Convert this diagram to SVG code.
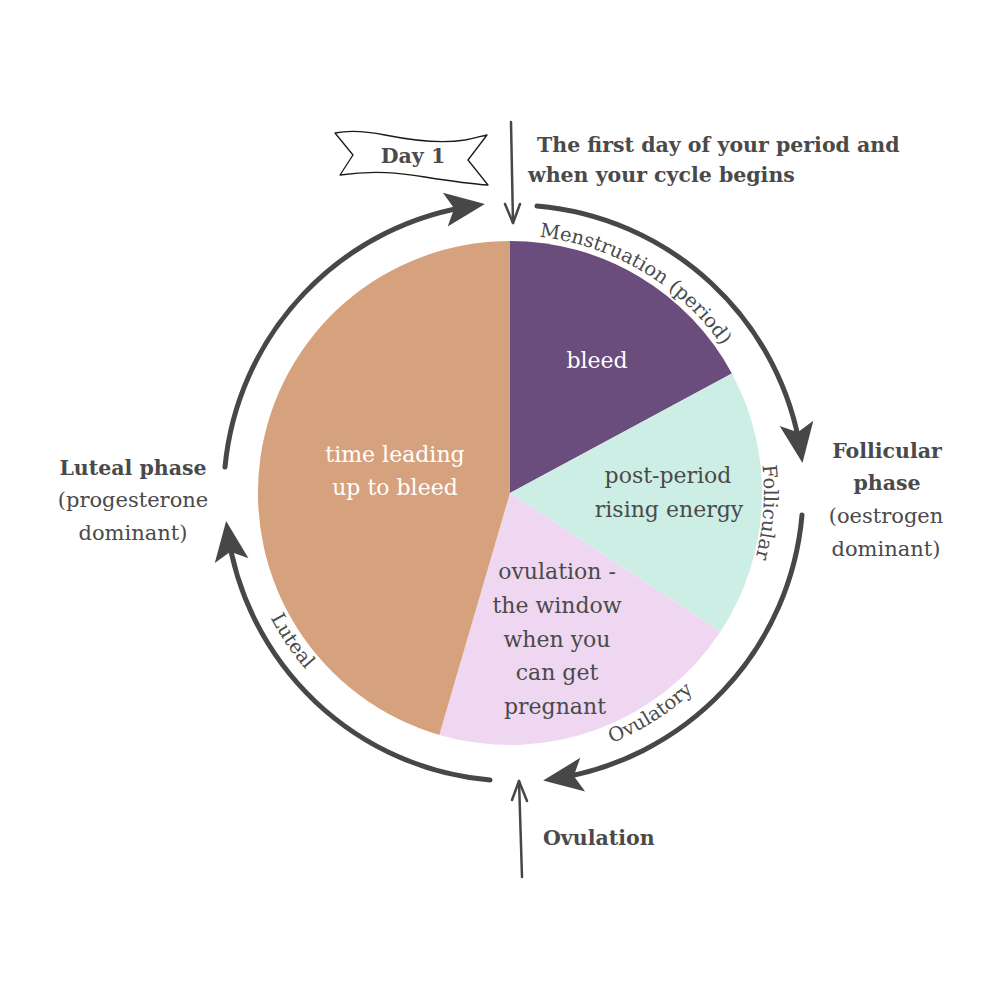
<svg xmlns="http://www.w3.org/2000/svg" width="1000" height="1000" viewBox="0 0 1000 1000">
<defs>
<style>
.t{font-family:"DejaVu Serif","Liberation Serif",serif;fill:#4a4a4a}
.b{font-weight:bold;font-size:20.5px}
.r{font-size:21px}
.s{font-size:22px;text-anchor:middle}
.w{fill:#ffffff}
.c{font-size:19.5px}
.ring{fill:none;stroke:#474747;stroke-width:5;stroke-linecap:round;marker-end:url(#head)}
.thin{fill:none;stroke:#474747;stroke-width:2.5;stroke-linecap:round;stroke-linejoin:round}
</style>
<marker id="head" markerUnits="userSpaceOnUse" orient="auto" refX="0" refY="0" markerWidth="80" markerHeight="80" overflow="visible">
<path d="M10,0 L-30,-17 L-21,0 L-30,17 Z" fill="#474747"/>
</marker>
<path id="pMen" d="M510,235 A258,258 0 0 1 768,493"/>
<path id="pFol" d="M689.6,313.4 A254,254 0 0 1 689.6,672.6"/>
<path id="pOvu" d="M510,763 A270,270 0 0 0 780,493"/>
<path id="pLut" d="M240,493 A270,270 0 0 0 510,763"/>
</defs>
<rect width="1000" height="1000" fill="#ffffff"/>

<g id="pie">
<g id="slice-bleed">
<path d="M510,493 L510,241 A252,252 0 0 1 731.9,373.5 Z" fill="#6a4c7d"/>
<text class="t s w" x="597" y="368">bleed</text>
</g>
<g id="slice-follicular">
<path d="M510,493 L731.9,373.5 A252,252 0 0 1 720.4,631.7 Z" fill="#cdeee4"/>
<text class="t s" x="668" y="483">post-period</text>
<text class="t s" x="669" y="517">rising energy</text>
</g>
<g id="slice-ovulatory">
<path d="M510,493 L720.4,631.7 A252,252 0 0 1 439.3,734.9 Z" fill="#efd7f1"/>
<text class="t s" x="557" y="579">ovulation -</text>
<text class="t s" x="557" y="613">the window</text>
<text class="t s" x="557" y="647">when you</text>
<text class="t s" x="557" y="680">can get</text>
<text class="t s" x="555" y="714">pregnant</text>
</g>
<g id="slice-luteal">
<path d="M510,493 L439.3,734.9 A252,252 0 0 1 510,241 Z" fill="#d6a27d"/>
<text class="t s w" x="395" y="462">time leading</text>
<text class="t s w" x="395" y="495">up to bleed</text>
</g>
</g>

<g id="connectors">
<path class="ring" d="M537,206 A292,292 0 0 1 801,453"/>
<path class="ring" d="M802,515 A292,292 0 0 1 553,779"/>
<path class="ring" d="M490,780 A290,290 0 0 1 227.5,531"/>
<path class="ring" d="M225,467 A292,292 0 0 1 475,205.5"/>
<path class="thin" d="M511,122 L513,223"/>
<path class="thin" d="M505,204 L513,223 L520,204"/>
<path class="thin" d="M522,877 L519,781"/>
<path class="thin" d="M512,800 L519,781 L527,801"/>
</g>

<g id="ring-labels">
<text class="t c"><textPath href="#pMen" startOffset="139" text-anchor="middle">Menstruation (period)</textPath></text>
<text class="t c"><textPath href="#pFol" startOffset="218.5" text-anchor="middle">Follicular</textPath></text>
<text class="t c"><textPath href="#pOvu" startOffset="153" text-anchor="middle">Ovulatory</textPath></text>
<text class="t c"><textPath href="#pLut" startOffset="161" text-anchor="middle">Luteal</textPath></text>
</g>

<g id="day1">
<path d="M335,133 C350,130 365,131 385,135 C410,140 440,144 465,140 C475,138 482,136 487,135 L468,160 L488,185 C470,184 450,181 425,177 C400,173 375,170 340,175 L353,155 Z" fill="#ffffff" stroke="#1a1a1a" stroke-width="1.3" stroke-linejoin="round"/>
<text class="t b" x="413" y="163" text-anchor="middle" font-size="19">Day 1</text>
</g>

<g id="first-day-note">
<text class="t b" x="537" y="152">The first day of your period and</text>
<text class="t b" x="528" y="182">when your cycle begins</text>
</g>

<g id="follicular-phase">
<text class="t b" x="887" y="458" text-anchor="middle">Follicular</text>
<text class="t b" x="887" y="490" text-anchor="middle">phase</text>
<text class="t r" x="886" y="523" text-anchor="middle">(oestrogen</text>
<text class="t r" x="886" y="556" text-anchor="middle">dominant)</text>
</g>

<g id="luteal-phase">
<text class="t b" x="133" y="475" text-anchor="middle">Luteal phase</text>
<text class="t r" x="133" y="507" text-anchor="middle">(progesterone</text>
<text class="t r" x="133" y="540" text-anchor="middle">dominant)</text>
</g>

<g id="ovulation">
<text class="t b" x="543" y="845">Ovulation</text>
</g>
</svg>
